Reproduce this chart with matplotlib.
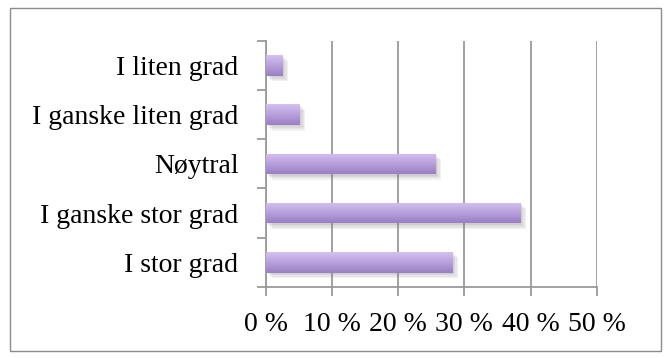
import numpy as np
import matplotlib
matplotlib.use("Agg")
import matplotlib.pyplot as plt
from matplotlib.colors import LinearSegmentedColormap
from matplotlib.patches import Rectangle
import matplotlib.patheffects as pe

categories = ["I stor grad", "I ganske stor grad", "Nøytral",
              "I ganske liten grad", "I liten grad"]
values = [28.2, 38.5, 25.6, 5.1, 2.5]
x_ticks = [0, 10, 20, 30, 40, 50]
x_labels = ["0 %", "10 %", "20 %", "30 %", "40 %", "50 %"]

plt.rcParams["font.family"] = ["Liberation Serif", "DejaVu Serif"]

fig = plt.figure(figsize=(6.67, 3.58), dpi=100)
ax = fig.add_axes([0.399, 0.199, 0.4955, 0.6865])

# outer chart frame
fig.patches.append(Rectangle((10 / 667, 1 - 351 / 358), 651 / 667, 343 / 358,
                             transform=fig.transFigure, fill=False,
                             edgecolor="#8c8c8c", linewidth=1.0))

grid_col = "#9a9a9a"
y = np.arange(len(categories))

# soft drop shadow built from a few stacked offsets
shadow = [pe.SimplePatchShadow(offset=(d, -d), shadow_rgbFace="#808080", alpha=0.11)
          for d in (1, 2, 3, 4)]
bars = ax.barh(y, values, height=0.42, color="#b39ddb", zorder=3,
               path_effects=shadow + [pe.Normal()])

cmap = LinearSegmentedColormap.from_list("lav", ["#9a7fc4", "#b7a0dc", "#d4c1ef"])
grad = np.linspace(0, 1, 64).reshape(-1, 1)
for b in bars:
    x0, y0, w, h = b.get_x(), b.get_y(), b.get_width(), b.get_height()
    im = ax.imshow(grad, extent=[x0, x0 + w, y0, y0 + h], origin="lower",
                   aspect="auto", cmap=cmap, zorder=4, interpolation="bilinear")
    im.set_clip_path(b)

ax.set_xlim(0, 50)
ax.set_ylim(-0.5, len(categories) - 0.5)
ax.set_aspect("auto")

ax.set_xticks(x_ticks)
ax.set_xticklabels(x_labels, fontsize=20)
ax.set_yticks(y)
ax.set_yticklabels(categories, fontsize=20)
ax.set_yticks(np.arange(-0.5, len(categories), 1), minor=True)

ax.tick_params(axis="y", which="major", length=0, pad=20)
ax.tick_params(axis="y", which="minor", length=6.5, width=1.3, color=grid_col,
               direction="out")
ax.tick_params(axis="x", which="major", length=6.5, width=1.3, color=grid_col,
               direction="out", pad=12)

ax.xaxis.grid(True, color=grid_col, linewidth=1.3)
ax.set_axisbelow(True)
for s in ["top", "right"]:
    ax.spines[s].set_visible(False)
for s in ["left", "bottom"]:
    ax.spines[s].set_color(grid_col)
    ax.spines[s].set_linewidth(1.3)

fig.savefig("out.png", dpi=100)
